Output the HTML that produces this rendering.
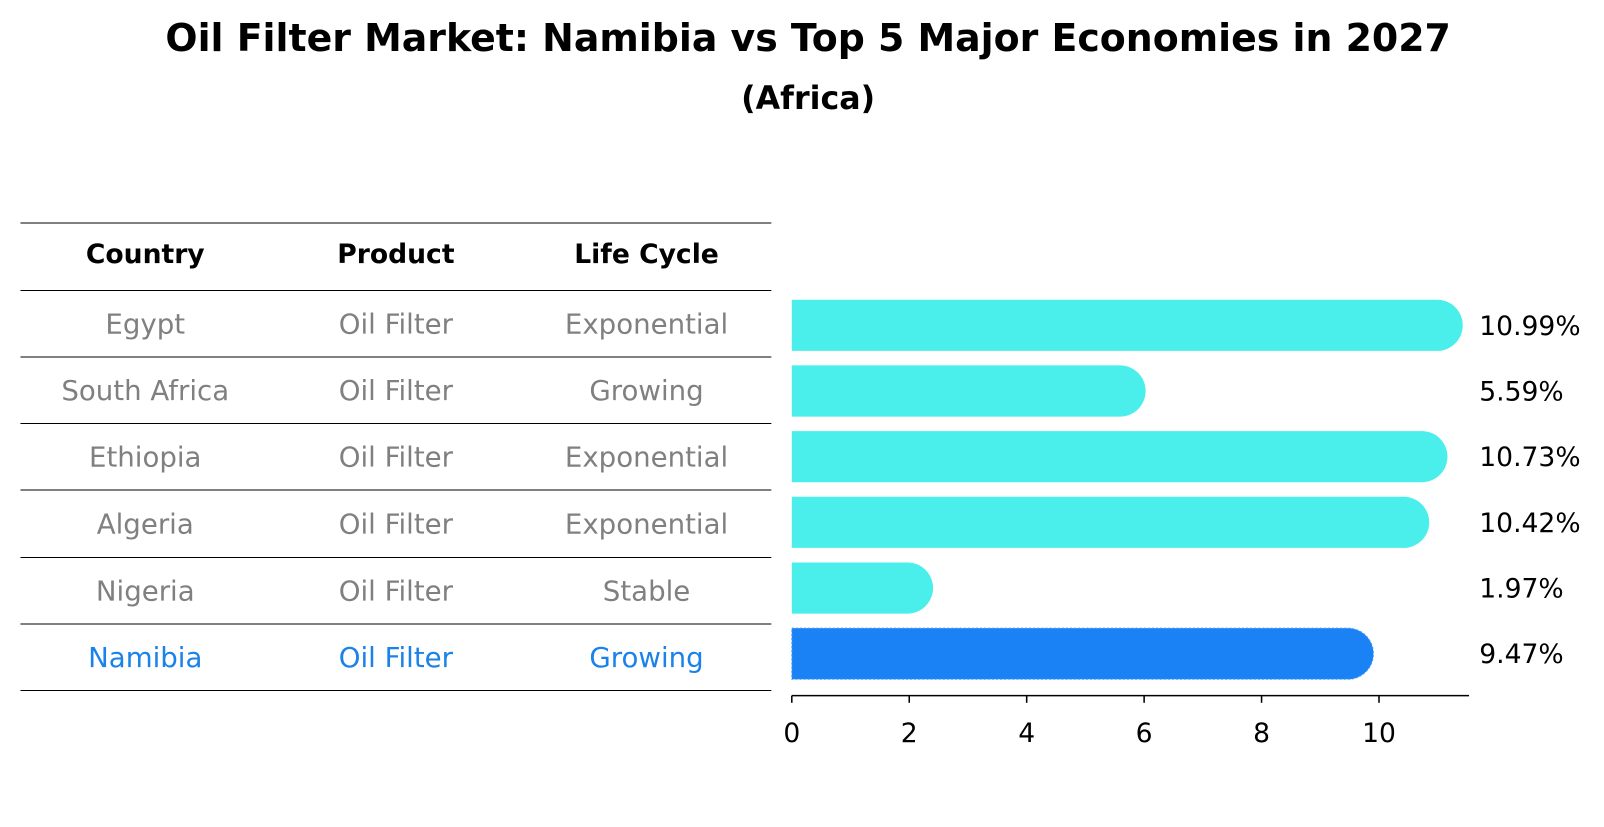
<!DOCTYPE html>
<html><head><meta charset="utf-8"><style>
body{margin:0;background:#fff;font-family:"DejaVu Sans","Liberation Sans",sans-serif}
svg text{font-family:"DejaVu Sans","Liberation Sans",sans-serif}
</style></head><body>
<svg width="1604" height="823" viewBox="0 0 1604 823">
<g transform="scale(1.023)">
<text x="790" y="37" dominant-baseline="central" text-anchor="middle" font-size="37" font-weight="bold">Oil Filter Market: Namibia vs Top 5 Major Economies in 2027</text>
<text x="790" y="97" dominant-baseline="central" text-anchor="middle" font-size="31" font-weight="bold">(Africa)</text>
<g id="table"></g>
<g id="bars"></g>
<g id="axis"></g>
</g>
</svg>
<script>
const countries=["Egypt","South Africa","Ethiopia","Algeria","Nigeria","Namibia"];
const products=["Oil Filter","Oil Filter","Oil Filter","Oil Filter","Oil Filter","Oil Filter"];
const cycles=["Exponential","Growing","Exponential","Exponential","Stable","Growing"];
const values=[10.99,5.59,10.73,10.42,1.97,9.47];
const ticks=[0,2,4,6,8,10];
const NS="http://www.w3.org/2000/svg";
function mk(t,a,p){const e=document.createElementNS(NS,t);for(const k in a)e.setAttribute(k,a[k]);p.appendChild(e);return e;}
const x=v=>774+v*57.4;
const rowY=i=>318+i*64.2;
const table=document.getElementById('table'),bars=document.getElementById('bars'),axis=document.getElementById('axis');
const lineYs=[218,284,349,414,479,545,610,675];
lineYs.forEach(y=>{const l=mk('line',{x1:20,x2:754,y1:y,y2:y,stroke:'#000','stroke-width':1},table);

});
const cols=[142,387,632];
["Country","Product","Life Cycle"].forEach((h,j)=>{const t=mk('text',{x:cols[j],y:249,'dominant-baseline':'central','text-anchor':'middle','font-size':26,'font-weight':'bold'},table);t.textContent=h;

});
countries.forEach((c,i)=>{const y=(lineYs[i+1]+lineYs[i+2])/2;const col=i===countries.length-1?'#1a82e8':'#808080';
[c,products[i],cycles[i]].forEach((s,j)=>{const t=mk('text',{x:cols[j],y:y,'dominant-baseline':'central','text-anchor':'middle','font-size':27,fill:col},table);t.textContent=s;

});
const cy=rowY(i),h=50,r=25,xe=x(values[i]);
const last=i===countries.length-1;
const p=mk('path',{d:`M774 ${cy-h/2} H${xe} A${r} ${r} 0 0 1 ${xe} ${cy+h/2} H774 Z`,fill:last?'#1a82f4':'#4aeeea',stroke:last?'#4aa0ff':'none','stroke-dasharray':'2 2','stroke-width':1},bars);


const t=mk('text',{x:1446,y:cy+1,'dominant-baseline':'central','font-size':26},bars);t.textContent=values[i].toFixed(2)+'%';

});
mk('line',{x1:774,x2:1436,y1:680,y2:680,stroke:'#000','stroke-width':1.5},axis);
ticks.forEach(v=>{mk('line',{x1:x(v),x2:x(v),y1:680,y2:687,stroke:'#000','stroke-width':1.5},axis);
const t=mk('text',{x:x(v),y:717,'dominant-baseline':'central','text-anchor':'middle','font-size':26},axis);t.textContent=v;

});
</script>
</body></html>
